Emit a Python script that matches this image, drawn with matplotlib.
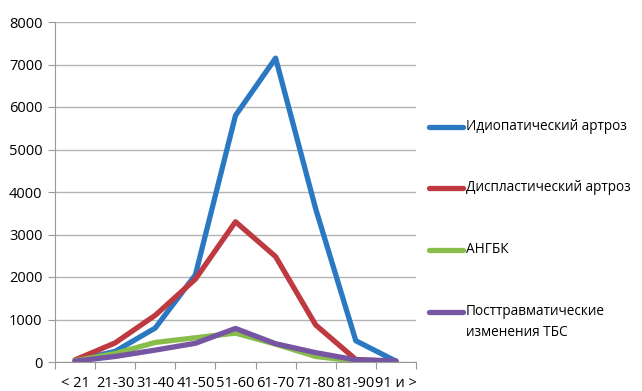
import matplotlib
matplotlib.use('Agg')
import matplotlib.pyplot as plt
from matplotlib.lines import Line2D

# Age groups and patient counts per diagnosis
age_groups = ['< 21', '21-30', '31-40', '41-50', '51-60', '61-70', '71-80', '81-90', '91 и >']
idiopathic = [30, 250, 800, 2050, 5800, 7150, 3600, 500, 20]
dysplastic = [50, 450, 1100, 1950, 3300, 2480, 870, 60, 10]
angbk = [30, 200, 460, 570, 680, 420, 130, 20, 10]
posttraumatic = [20, 130, 280, 440, 790, 430, 220, 50, 30]

series_names = ['Идиопатический артроз', 'Диспластический артроз', 'АНГБК',
                'Посттравматические\nизменения ТБС']
series_values = [idiopathic, dysplastic, angbk, posttraumatic]
colors = ['#2a78c2', '#be3a40', '#88bd4c', '#7656a3']

plt.rcParams['font.family'] = ['Open Sans', 'DejaVu Sans']

W, H = 642, 391
fig = plt.figure(figsize=(W / 100, H / 100), dpi=100)
ax = fig.add_axes([55 / W, (H - 362) / H, (416 - 55) / W, (362 - 22) / H])

x = list(range(len(age_groups)))
for vals, col in zip(series_values, colors):
    ax.plot(x, vals, color=col, lw=3.8, solid_joinstyle='round', solid_capstyle='round')

ax.set_xlim(-0.5, len(age_groups) - 0.5)
ax.set_ylim(0, 8000)
ax.set_yticks(range(0, 8001, 1000))
ax.yaxis.grid(True, color='#b3b3b3', lw=1)
ax.set_axisbelow(True)

# category boundaries carry the ticks, labels sit in the middle
ax.set_xticks([i - 0.5 for i in range(len(age_groups) + 1)])
ax.set_xticklabels([])
ax.set_xticks(x, minor=True)
ax.set_xticklabels(age_groups, minor=True, fontsize=10.5)
ax.tick_params(axis='x', which='minor', length=0, pad=10)
ax.tick_params(axis='x', which='major', length=5, color='#999999')
ax.tick_params(axis='y', length=5, color='#999999', pad=4, labelsize=10.5)

for side in ['top', 'right']:
    ax.spines[side].set_visible(False)
for side in ['left', 'bottom']:
    ax.spines[side].set_color('#999999')

# legend on the right
legend_y = [127, 188, 250, 312]
for name, col, yy in zip(series_names, colors, legend_y):
    fy = (H - yy) / H
    fig.add_artist(Line2D([429 / W, 463 / W], [fy, fy], color=col, lw=3.8,
                          solid_capstyle='round'))
    fig.text(466 / W, fy + 8 / H, name, fontsize=9.8, va='top', linespacing=1.5)

fig.savefig('out.png', dpi=100)
